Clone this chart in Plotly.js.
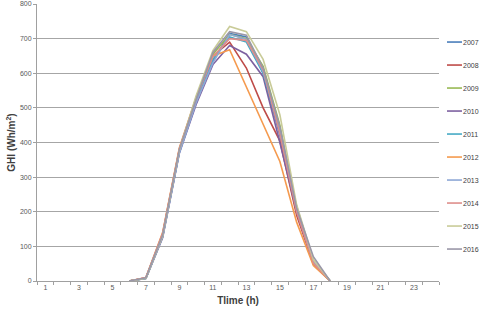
<!DOCTYPE html>
<html><head><meta charset="utf-8">
<script src="https://cdn.plot.ly/plotly-3.0.1.min.js"></script>
<style>html,body{margin:0;padding:0;background:#fff}#c{width:480px;height:311px}</style>
</head><body><div id="c"></div>
<script>
const hours = [6,7,8,9,10,11,12,13,14,15,16,17,18];
const years = ["2007","2008","2009","2010","2011","2012","2013","2014","2015","2016"];
const colors = ["#4A7EBB","#BE4B48","#98B954","#7D60A0","#46AAC5","#F59A4E","#8EA8D6","#DE8E8B","#C9CB98","#9A97A8"];
const ghi2007 = [0,8,128,372,515,635,715,705,600,420,215,55,0];
const ghi2008 = [0,9,135,380,525,650,690,615,500,405,190,50,0];
const ghi2009 = [0,8,132,378,530,655,712,700,620,450,205,60,0];
const ghi2010 = [0,7,125,370,510,625,680,655,590,400,200,48,0];
const ghi2011 = [0,8,130,375,520,640,705,690,600,430,210,55,0];
const ghi2012 = [0,9,140,385,530,650,668,560,455,345,170,45,0];
const ghi2013 = [0,8,128,370,515,630,712,698,605,440,215,58,0];
const ghi2014 = [0,10,138,382,528,648,700,695,610,425,200,52,0];
const ghi2015 = [0,8,130,378,535,665,735,720,640,480,220,62,0];
const ghi2016 = [0,9,133,380,525,660,720,710,615,445,210,70,0];
const series = [ghi2007,ghi2008,ghi2009,ghi2010,ghi2011,ghi2012,ghi2013,ghi2014,ghi2015,ghi2016];
const xTickVals = [1,3,5,7,9,11,13,15,17,19,21,23];

const traces = series.map((s,i)=>({
  type:'scatter', mode:'lines', x:hours, y:s, name:years[i],
  legendgroup:'g'+i,
  line:{color:colors[i], width:1.6}
}));

const layout = {
  width:480, height:311,
  margin:{l:37, r:41, t:4, b:30, autoexpand:false},
  paper_bgcolor:'#fff', plot_bgcolor:'#fff',
  font:{family:'Liberation Sans, Arial, sans-serif', color:'#595959', size:7},
  showlegend:true,
  legend:{x:0.9726, xref:'paper', y:0.915, yanchor:'top', font:{size:7, color:'#404040'},
          traceorder:'grouped', tracegroupgap:4, bgcolor:'rgba(0,0,0,0)', itemwidth:30},
  xaxis:{
    range:[0.5,24.5], tickvals:xTickVals, ticktext:xTickVals.map(String),
    ticks:'', showgrid:false, zeroline:false,
    showline:true, linecolor:'#A0A0A0', linewidth:1,
    minor:{ticks:'outside', tick0:0.5, dtick:1, ticklen:3, tickcolor:'#A0A0A0', showgrid:false},
    tickfont:{size:7, color:'#595959'},
    title:{text:'Tlime (h)', font:{size:10, color:'#404040', family:'Liberation Sans, Arial, sans-serif', weight:'bold'}, standoff:6}
  },
  yaxis:{
    range:[0,800], dtick:100, tick0:0,
    ticks:'outside', ticklen:3, tickcolor:'#A0A0A0',
    showgrid:true, gridcolor:'#A6A6A6', gridwidth:1, zeroline:false,
    showline:true, linecolor:'#A0A0A0', linewidth:1,
    tickfont:{size:7, color:'#595959'},
    title:{text:'GHI (Wh/m<sup>2</sup>)', font:{size:10, color:'#404040', family:'Liberation Sans, Arial, sans-serif', weight:'bold'}, standoff:2}
  }
};
Plotly.newPlot('c', traces, layout, {staticPlot:true, displayModeBar:false}).then(gd=>{
  // short legend swatches with the label right after them, as in the reference
  gd.querySelectorAll('.legend .legendlines path').forEach(p=>p.setAttribute('d','M19,0h15'));
  gd.querySelectorAll('.legend text.legendtext').forEach(t=>t.setAttribute('x','35'));
  gd.querySelectorAll('.legend .scrollbox, .legend').forEach(g=>g.removeAttribute('clip-path'));
});
</script>
</body></html>
